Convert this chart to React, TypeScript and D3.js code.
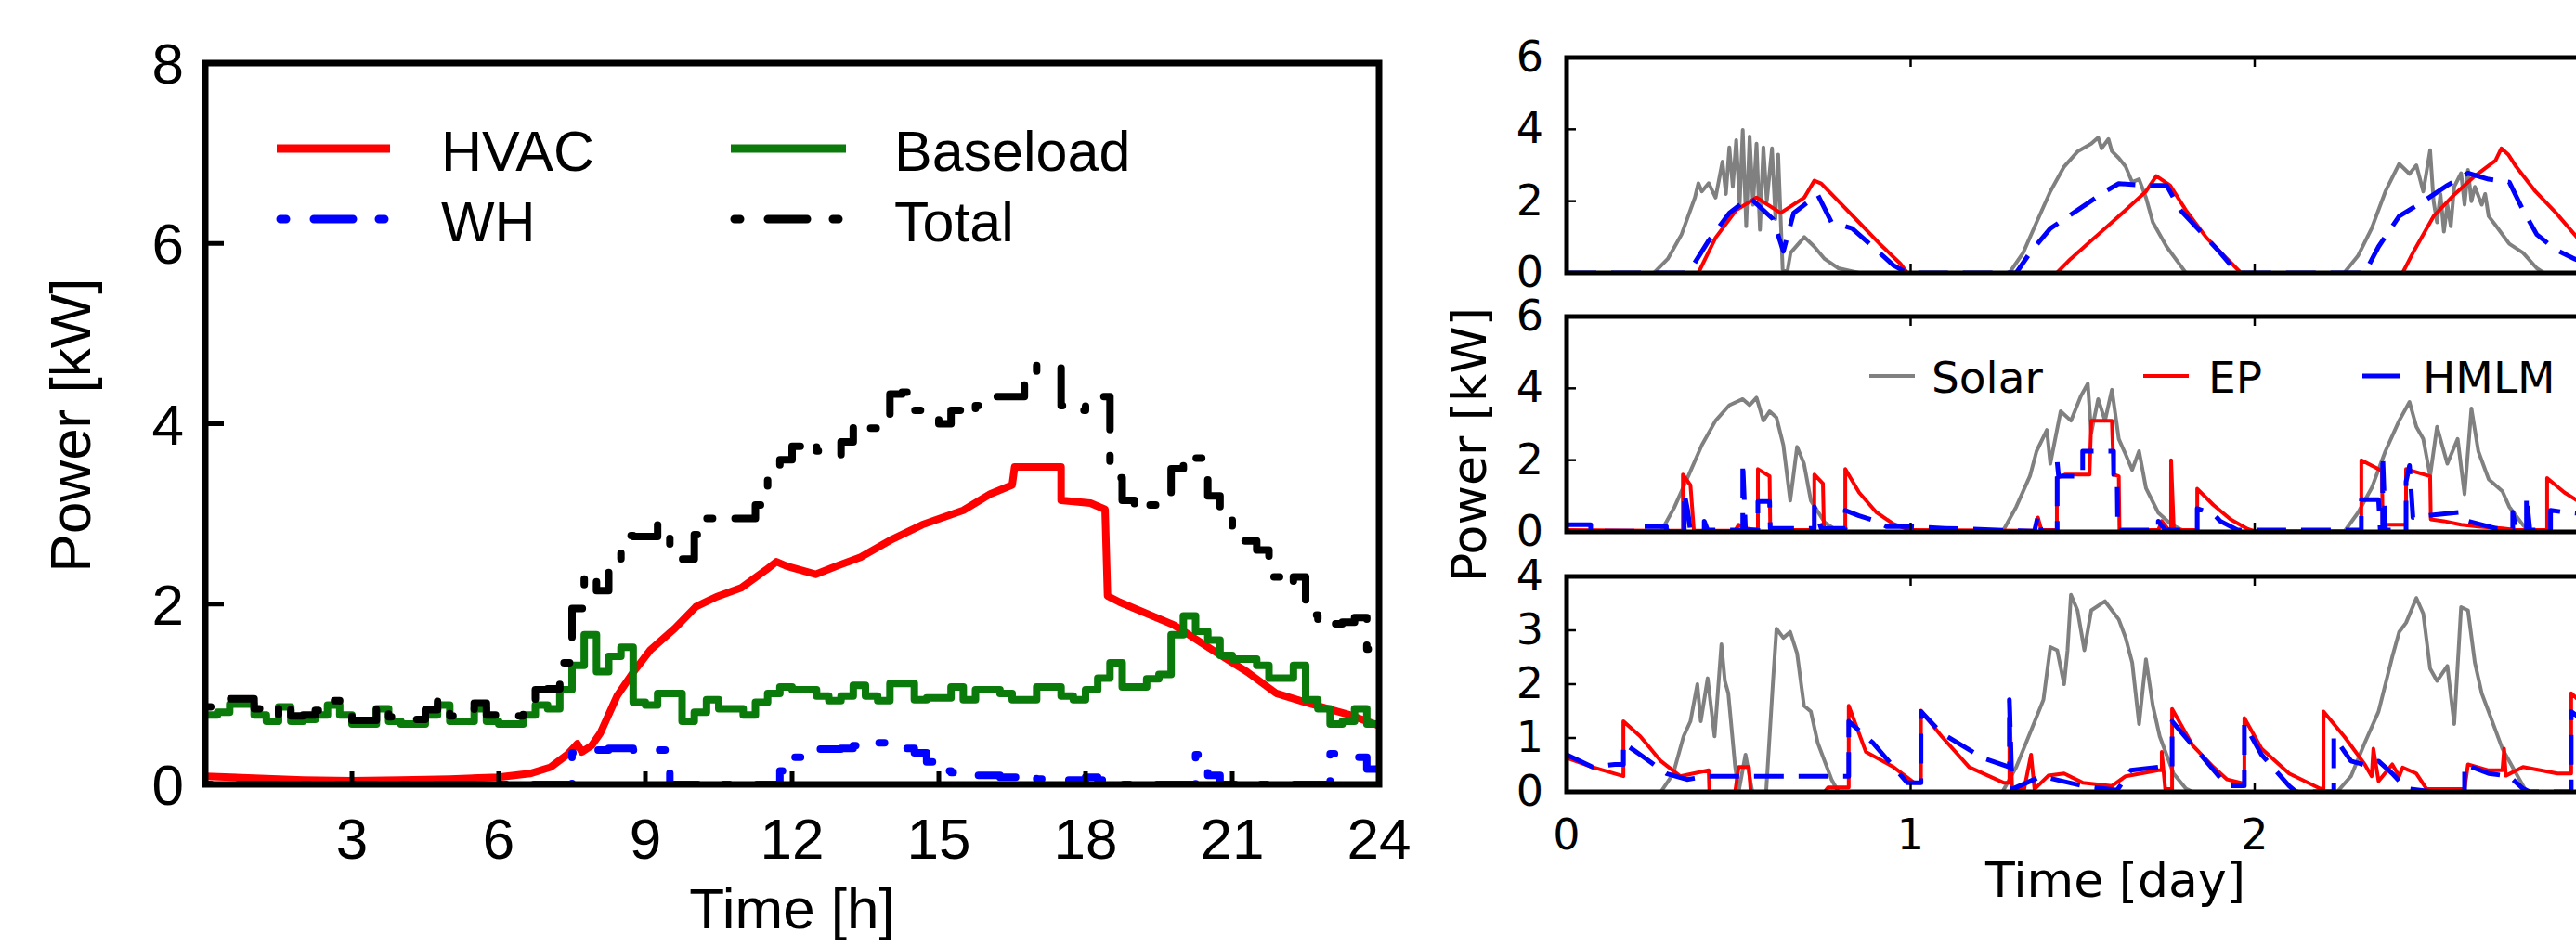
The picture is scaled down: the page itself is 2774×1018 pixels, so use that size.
import React from 'react';
import * as d3 from 'd3';

// ---------- Left chart: one day, 15-min resolution ----------
const baseload = [
  0.77, 0.80, 0.89, 0.89, 0.77, 0.70, 0.86, 0.70, 0.72, 0.77, 0.88, 0.77,
  0.67, 0.67, 0.84, 0.70, 0.67, 0.67, 0.77, 0.88, 0.70, 0.70, 0.84, 0.70,
  0.67, 0.67, 0.77, 0.88, 0.84, 1.05, 1.32, 1.66, 1.25, 1.42, 1.52, 0.91,
  0.88, 1.01, 1.01, 0.70, 0.80, 0.94, 0.84, 0.84, 0.77, 0.91, 1.01, 1.08,
  1.05, 1.05, 0.98, 0.93, 0.98, 1.10, 0.98, 0.93, 1.12, 1.12, 0.94, 0.96,
  0.96, 1.08, 0.94, 1.05, 1.05, 1.01, 0.94, 0.94, 1.08, 1.08, 0.98, 0.94,
  1.05, 1.18, 1.35, 1.08, 1.08, 1.17, 1.22, 1.66, 1.87, 1.70, 1.60, 1.43,
  1.39, 1.39, 1.32, 1.18, 1.18, 1.32, 0.94, 0.84, 0.67, 0.70, 0.84, 0.67,
];
const waterHeater = [
  0, 0, 0, 0, 0, 0, 0, 0, 0, 0, 0, 0,
  0, 0, 0, 0, 0, 0, 0, 0, 0, 0, 0, 0,
  0, 0, 0, 0, 0, 0, 0.35, 0.35, 0.38, 0.40, 0.40, 0.38,
  0.38, 0.38, 0, 0, 0, 0, 0, 0, 0, 0, 0, 0.15,
  0.30, 0.35, 0.39, 0.39, 0.40, 0.43, 0.45, 0.46, 0.45, 0.40, 0.35, 0.25,
  0.15, 0.13, 0.12, 0.10, 0.10, 0.08, 0.08, 0.10, 0.06, 0.05, 0.05, 0.05,
  0.08, 0.05, 0, 0, 0, 0, 0, 0, 0, 0.33, 0.10, 0,
  0, 0, 0, 0, 0, 0, 0, 0, 0.34, 0.34, 0.30, 0.17,
];
const totalLoad = [
  0.86, 0.87, 0.95, 0.95, 0.84, 0.77, 0.92, 0.76, 0.77, 0.82, 0.93, 0.81,
  0.71, 0.71, 0.88, 0.75, 0.72, 0.72, 0.83, 0.93, 0.76, 0.76, 0.90, 0.77,
  0.75, 0.76, 0.89, 1.05, 1.06, 1.35, 1.95, 2.35, 2.15, 2.45, 2.76, 2.75,
  2.75, 2.88, 2.55, 2.50, 2.77, 2.95, 2.92, 2.95, 2.95, 3.10, 3.40, 3.60,
  3.75, 3.80, 3.70, 3.65, 3.80, 4.00, 3.95, 3.95, 4.33, 4.35, 4.15, 4.10,
  4.00, 4.15, 4.10, 4.20, 4.30, 4.30, 4.30, 4.50, 4.65, 4.62, 4.20, 4.15,
  4.25, 4.30, 3.40, 3.15, 3.05, 3.10, 3.10, 3.50, 3.65, 3.62, 3.20, 3.00,
  2.85, 2.70, 2.60, 2.30, 2.20, 2.30, 1.88, 1.75, 1.78, 1.80, 1.85, 1.50,
];
const hvac: [number, number][] = [
  [0, 0.09], [1, 0.07], [2, 0.05], [3, 0.04], [4, 0.05], [5, 0.06], [6, 0.08],
  [6.64, 0.12], [7.06, 0.19], [7.4, 0.33], [7.61, 0.45], [7.7, 0.36], [7.9, 0.43],
  [8.08, 0.57], [8.42, 0.98], [8.76, 1.25], [9.1, 1.49], [9.6, 1.73], [10.03, 1.97],
  [10.45, 2.08], [10.96, 2.18], [11.47, 2.38], [11.68, 2.47], [11.89, 2.42],
  [12.48, 2.33], [12.9, 2.42], [13.4, 2.52], [14.05, 2.72], [14.66, 2.88],
  [15.5, 3.04], [16.05, 3.22], [16.5, 3.32], [16.55, 3.52], [17.5, 3.52],
  [17.5, 3.15], [18.1, 3.12], [18.4, 3.05], [18.45, 2.09], [18.7, 2.02],
  [19.8, 1.77], [20.6, 1.49], [21.3, 1.25], [21.9, 1.01], [22.5, 0.91],
  [23.4, 0.77], [24, 0.65],
];
const leftXTicks = [3, 6, 9, 12, 15, 18, 21, 24];
const leftYTicks = [0, 2, 4, 6, 8];

// ---------- Right chart: three days, three scenarios ----------
type P = [number, number];
const solarTop: P[] = [
  [0, 0], [0.254, 0], [0.294, 0.39], [0.334, 1.07], [0.373, 2.1], [0.383, 2.5], [0.393, 2.27],
  [0.413, 2.5], [0.433, 2.1], [0.453, 3.1], [0.463, 2.2], [0.473, 3.5], [0.483, 2.4], [0.493, 3.7],
  [0.503, 1.9], [0.512, 3.98], [0.522, 1.3], [0.532, 3.8], [0.542, 1.9], [0.552, 3.6], [0.562, 1.2],
  [0.572, 3.5], [0.582, 2.0], [0.597, 3.47], [0.607, 1.5], [0.615, 3.3], [0.628, 0.1], [0.641, 0],
  [0.651, 0.56], [0.691, 1.0], [0.72, 0.73], [0.75, 0.39], [0.79, 0.13], [0.85, 0],
  [1.287, 0], [1.327, 0.56], [1.366, 1.41], [1.406, 2.27], [1.446, 2.96], [1.485, 3.38], [1.525, 3.6],
  [1.545, 3.77], [1.555, 3.47], [1.575, 3.73], [1.585, 3.39], [1.605, 3.2], [1.625, 2.96],
  [1.644, 2.53], [1.664, 2.61], [1.684, 2.1], [1.704, 1.41], [1.744, 0.73], [1.784, 0.21], [1.8, 0],
  [2.26, 0], [2.3, 0.47], [2.34, 1.24], [2.38, 2.27], [2.42, 3.04], [2.45, 2.76], [2.47, 3.0],
  [2.49, 2.27], [2.51, 3.42], [2.52, 2.0], [2.53, 1.41], [2.54, 2.2], [2.55, 1.15], [2.56, 1.9],
  [2.57, 1.3], [2.58, 2.4], [2.6, 2.78], [2.61, 1.9], [2.62, 2.87], [2.63, 2.0], [2.64, 2.4],
  [2.66, 1.9], [2.67, 2.2], [2.68, 1.58], [2.7, 1.33], [2.74, 0.81], [2.78, 0.56], [2.82, 0.13],
  [2.84, 0], [3.2, 0],
];
const epTop: P[] = [
  [0, 0], [0.383, 0], [0.433, 0.98], [0.493, 1.75], [0.552, 2.1], [0.622, 1.67], [0.691, 2.1],
  [0.72, 2.57], [0.74, 2.49], [0.79, 2.0], [0.85, 1.41], [0.91, 0.81], [0.97, 0.26], [0.99, 0],
  [1.425, 0], [1.465, 0.39], [1.545, 1.07], [1.625, 1.75], [1.684, 2.27], [1.714, 2.7], [1.754, 2.44],
  [1.8, 1.75], [1.86, 0.98], [1.92, 0.39], [1.96, 0], [2.43, 0], [2.46, 0.56], [2.52, 1.58],
  [2.58, 2.18], [2.64, 2.7], [2.7, 3.13], [2.717, 3.47], [2.737, 3.3], [2.76, 2.96], [2.816, 2.27],
  [2.876, 1.67], [2.93, 1.07], [2.98, 0.5], [3.03, 0], [3.2, 0],
];
const hmlmTop: P[] = [
  [0, 0], [0.354, 0], [0.413, 0.9], [0.473, 1.67], [0.532, 2.1], [0.6, 1.5], [0.63, 0.6],
  [0.66, 1.67], [0.73, 2.18], [0.77, 1.41], [0.83, 1.24], [0.89, 0.73], [0.95, 0.21], [0.99, 0],
  [1.307, 0], [1.347, 0.56], [1.406, 1.24], [1.485, 1.75], [1.565, 2.27], [1.605, 2.49],
  [1.684, 2.44], [1.744, 2.44], [1.784, 1.75], [1.843, 1.15], [1.9, 0.56], [1.95, 0],
  [2.32, 0], [2.36, 0.73], [2.42, 1.58], [2.48, 1.93], [2.56, 2.44], [2.62, 2.78], [2.68, 2.61],
  [2.74, 2.53], [2.78, 1.75], [2.82, 1.07], [2.876, 0.64], [2.93, 0.39], [3.0, 0.1], [3.05, 0], [3.2, 0],
];
const solarMid: P[] = [
  [0, 0], [0.274, 0], [0.314, 0.7], [0.354, 1.56], [0.393, 2.42], [0.433, 3.1], [0.473, 3.53],
  [0.512, 3.7], [0.532, 3.53], [0.552, 3.74], [0.572, 3.1], [0.59, 3.36], [0.61, 3.19], [0.63, 2.42],
  [0.65, 0.87], [0.67, 2.37], [0.69, 1.9], [0.71, 0.87], [0.75, 0.27], [0.79, 0],
  [1.267, 0], [1.307, 0.7], [1.347, 1.56], [1.366, 2.25], [1.396, 2.84], [1.406, 1.9], [1.436, 3.36],
  [1.466, 3.1], [1.495, 3.79], [1.515, 4.13], [1.525, 2.76], [1.545, 3.7], [1.565, 3.1], [1.585, 3.96],
  [1.605, 2.59], [1.625, 2.16], [1.644, 1.73], [1.664, 2.25], [1.684, 1.22], [1.72, 0.53],
  [1.76, 0.19], [1.8, 0],
  [2.26, 0], [2.3, 0.53], [2.34, 1.22], [2.38, 2.25], [2.42, 3.1], [2.45, 3.62], [2.47, 2.93],
  [2.49, 2.59], [2.51, 1.56], [2.53, 2.93], [2.56, 1.9], [2.59, 2.59], [2.61, 1.05], [2.63, 3.44],
  [2.65, 2.25], [2.68, 1.47], [2.72, 1.13], [2.74, 0.7], [2.78, 0.19], [2.8, 0], [3.2, 0],
];
const epMid: P[] = [
  [0, 0.05], [0.338, 0.03], [0.338, 1.6], [0.36, 1.3], [0.37, 0.03], [0.49, 0.03], [0.5, 0.2],
  [0.52, 0.1], [0.556, 0.05], [0.556, 1.75], [0.59, 1.55], [0.592, 0.05], [0.72, 0.05], [0.72, 1.6],
  [0.745, 1.35], [0.748, 0.05], [0.81, 0.05], [0.81, 1.75], [0.85, 1.1], [0.9, 0.55], [0.95, 0.22],
  [1.0, 0.05], [1.36, 0.03], [1.37, 0.4], [1.38, 0.05], [1.425, 0.05], [1.425, 1.5], [1.45, 1.6],
  [1.52, 1.6], [1.525, 3.1], [1.585, 3.1], [1.59, 1.6], [1.605, 1.55], [1.607, 0.05], [1.72, 0.05],
  [1.73, 0.3], [1.75, 0.05], [1.757, 0.05], [1.757, 2.0], [1.765, 0.05], [1.833, 0.05], [1.833, 1.2],
  [1.88, 0.75], [1.93, 0.35], [1.98, 0.08], [2.0, 0.02], [2.31, 0.02], [2.31, 2.0], [2.37, 1.7],
  [2.372, 0.2], [2.44, 0.2], [2.44, 1.75], [2.51, 1.55], [2.512, 0.35], [2.55, 0.3], [2.6, 0.2],
  [2.65, 0.15], [2.72, 0.1], [2.76, 0.05], [2.85, 0.05], [2.85, 1.5], [2.9, 1.1], [2.95, 0.8], [3.2, 0.1],
];
const hmlmMid: P[] = [
  [0, 0.2], [0.07, 0.2], [0.07, 0.02], [0.2, 0.02], [0.2, 0.15], [0.29, 0.15], [0.29, 0.02],
  [0.342, 0.02], [0.342, 1.1], [0.352, 0.6], [0.36, 0.02], [0.4, 0.02], [0.4, 0.3], [0.41, 0.05],
  [0.512, 0.05], [0.512, 1.95], [0.52, 0.05], [0.556, 0.05], [0.556, 0.85], [0.59, 0.85], [0.592, 0.1],
  [0.72, 0.1], [0.72, 0.7], [0.74, 0.1], [0.81, 0.1], [0.81, 0.6], [0.85, 0.45], [0.9, 0.3],
  [0.93, 0.15], [1.0, 0.15], [1.1, 0.1], [1.36, 0.02], [1.37, 0.45], [1.38, 0.02], [1.426, 0.02],
  [1.426, 1.95], [1.43, 1.55], [1.5, 1.55], [1.5, 2.25], [1.59, 2.25], [1.59, 1.6], [1.6, 1.6],
  [1.602, 0.05], [1.72, 0.05], [1.72, 0.3], [1.74, 0.05], [1.833, 0.05], [1.833, 0.65], [1.88, 0.5],
  [1.9, 0.3], [1.95, 0.05], [2.31, 0.05], [2.31, 0.9], [2.36, 0.9], [2.365, 0.05], [2.372, 0.05],
  [2.372, 2.15], [2.38, 0.05], [2.44, 0.05], [2.44, 1.4], [2.45, 1.85], [2.46, 0.4], [2.5, 0.45],
  [2.6, 0.55], [2.62, 0.3], [2.7, 0.1], [2.75, 0.1], [2.75, 0.55], [2.76, 0.05], [2.79, 0.05],
  [2.79, 1.0], [2.8, 0.05], [2.86, 0.05], [2.86, 0.6], [2.9, 0.55], [3.2, 0.3],
];
const solarBot: P[] = [
  [0, 0], [0.274, 0], [0.31, 0.34], [0.34, 1.03], [0.36, 1.31], [0.38, 2.0], [0.39, 1.31],
  [0.41, 2.11], [0.43, 1.03], [0.45, 2.74], [0.46, 2.06], [0.47, 1.83], [0.49, 0.46], [0.5, 0],
  [0.52, 0.69], [0.54, 0], [0.58, 0], [0.6, 2.06], [0.61, 3.03], [0.63, 2.86], [0.65, 2.97],
  [0.67, 2.57], [0.69, 1.6], [0.71, 1.49], [0.73, 0.91], [0.77, 0.23], [0.79, 0],
  [1.267, 0], [1.307, 0.46], [1.347, 1.09], [1.386, 1.71], [1.406, 2.69], [1.426, 2.63], [1.446, 2.0],
  [1.456, 2.63], [1.466, 3.66], [1.485, 3.37], [1.505, 2.63], [1.525, 3.37], [1.565, 3.54],
  [1.605, 3.2], [1.625, 2.86], [1.644, 2.4], [1.664, 1.26], [1.684, 2.46], [1.704, 1.6],
  [1.724, 1.03], [1.764, 0.34], [1.8, 0.06], [1.82, 0],
  [2.24, 0], [2.28, 0.29], [2.32, 0.91], [2.36, 1.49], [2.4, 2.51], [2.42, 2.97], [2.44, 3.14],
  [2.47, 3.6], [2.49, 3.31], [2.51, 2.29], [2.53, 2.06], [2.56, 2.34], [2.58, 1.26], [2.6, 3.43],
  [2.62, 3.37], [2.64, 2.4], [2.66, 1.83], [2.68, 1.49], [2.72, 0.8], [2.76, 0.34], [2.79, 0], [3.2, 0],
];
const epBot: P[] = [
  [0, 0.63], [0.075, 0.46], [0.165, 0.29], [0.165, 1.31], [0.214, 1.03], [0.274, 0.57], [0.33, 0.29],
  [0.413, 0.4], [0.415, 0], [0.49, 0], [0.5, 0.46], [0.53, 0.46], [0.535, 0], [0.75, 0], [0.76, 0.08],
  [0.82, 0.08], [0.82, 1.6], [0.87, 0.74], [0.95, 0.46], [1.01, 0.17], [1.03, 0.17], [1.03, 1.51],
  [1.09, 1.03], [1.17, 0.46], [1.27, 0.17], [1.287, 0.17], [1.287, 1.71], [1.295, 0.05], [1.33, 0.05],
  [1.35, 0.69], [1.36, 0.05], [1.4, 0.3], [1.446, 0.34], [1.5, 0.17], [1.585, 0.11], [1.625, 0.29],
  [1.72, 0.4], [1.73, 0.4], [1.73, 0.74], [1.74, 0.05], [1.76, 0.05], [1.76, 1.54], [1.82, 0.86],
  [1.88, 0.46], [1.92, 0.23], [1.97, 0.15], [1.97, 1.37], [2.02, 0.8], [2.1, 0.34], [2.19, 0.06],
  [2.2, 0.06], [2.2, 1.49], [2.26, 1.03], [2.32, 0.51], [2.34, 0.29], [2.345, 0.8], [2.36, 0.2],
  [2.4, 0.51], [2.42, 0.29], [2.43, 0.45], [2.47, 0.34], [2.5, 0.05], [2.61, 0.05], [2.62, 0.51],
  [2.68, 0.4], [2.72, 0.4], [2.725, 0.8], [2.73, 0.3], [2.78, 0.46], [2.88, 0.34], [2.92, 0.34],
  [2.92, 1.83], [2.96, 1.6], [3.2, 0.8],
];
const hmlmBot: P[] = [
  [0, 0.69], [0.075, 0.46], [0.14, 0.51], [0.165, 0.51], [0.165, 0.91], [0.214, 0.69], [0.29, 0.34],
  [0.35, 0.23], [0.41, 0.29], [0.5, 0.29], [0.6, 0.29], [0.75, 0.29], [0.82, 0.29], [0.82, 1.31],
  [0.89, 0.91], [0.99, 0.17], [1.03, 0.17], [1.03, 1.49], [1.09, 1.09], [1.21, 0.63], [1.287, 0.46],
  [1.287, 1.71], [1.295, 0.05], [1.38, 0.29], [1.5, 0.11], [1.6, 0.03], [1.64, 0.4], [1.72, 0.46],
  [1.76, 0.46], [1.76, 1.31], [1.82, 0.86], [1.92, 0.11], [1.97, 0.11], [1.97, 1.26], [2.02, 0.69],
  [2.1, 0.11], [2.12, 0], [2.23, 0], [2.23, 1.03], [2.28, 0.57], [2.32, 0.5], [2.36, 0.57],
  [2.4, 0.34], [2.44, 0.06], [2.52, 0], [2.61, 0], [2.61, 0.51], [2.68, 0.34], [2.74, 0.29],
  [2.78, 0.06], [2.8, 0], [2.92, 0], [2.92, 1.49], [2.96, 1.3], [3.2, 0.7],
];
const dayTicks = [0, 1, 2, 3];
const dayTickLabels = ['0', '1', '2'];

const LFONT = '"Liberation Sans", Arial, Helvetica, sans-serif';
const RFONT = '"DejaVu Sans", sans-serif';

function Panel(props: {
  id: string; top: number; bottom: number; ymax: number; yticks: number[];
  solar: P[]; ep: P[]; hmlm: P[]; showX: boolean; legend?: boolean;
}) {
  const { id, top, bottom, ymax, yticks, solar, ep, hmlm, showX, legend } = props;
  const x = d3.scaleLinear().domain([0, 3.2]).range([1687, 1687 + 370.5 * 3.2]);
  const y = d3.scaleLinear().domain([0, ymax]).range([bottom, top]);
  const line = d3.line<P>().x(d => x(d[0])).y(d => y(d[1]));
  const x0 = x(0), x1 = x(3.2);
  return (
    <g>
      <defs>
        <clipPath id={id}>
          <rect x={x0} y={top} width={x1 - x0} height={bottom - top} />
        </clipPath>
      </defs>
      <g clipPath={`url(#${id})`} fill="none" strokeLinejoin="round">
        <path d={line(solar) || ''} stroke="#808080" strokeWidth={4} />
        <path d={line(ep) || ''} stroke="#ff0000" strokeWidth={4} />
        <path d={line(hmlm) || ''} stroke="#0000ff" strokeWidth={5} strokeDasharray="32,16" />
      </g>
      {yticks.map(t => (
        <g key={'y' + t}>
          <line x1={x0} x2={x0 + 10} y1={y(t)} y2={y(t)} stroke="#000" strokeWidth={2.5} />
          <text x={1662} y={y(t) + 15} textAnchor="end" fontFamily={RFONT} fontSize={46}>{t}</text>
        </g>
      ))}
      {dayTicks.map(t => (
        <g key={'x' + t}>
          <line x1={x(t)} x2={x(t)} y1={top} y2={top + 10} stroke="#000" strokeWidth={2.5} />
          <line x1={x(t)} x2={x(t)} y1={bottom} y2={bottom - 10} stroke="#000" strokeWidth={2.5} />
        </g>
      ))}
      {showX && dayTickLabels.map((lab, i) => (
        <text key={'xl' + lab} x={x(dayTicks[i])} y={bottom + 62} textAnchor="middle"
          fontFamily={RFONT} fontSize={46}>{lab}</text>
      ))}
      <rect x={x0} y={top} width={x1 - x0} height={bottom - top} fill="none" stroke="#000" strokeWidth={5} />
      {legend && (
        <g fontFamily={RFONT} fontSize={47}>
          <line x1={2013} x2={2062} y1={405} y2={405} stroke="#808080" strokeWidth={4} />
          <text x={2080} y={423}>Solar</text>
          <line x1={2308} x2={2357} y1={405} y2={405} stroke="#ff0000" strokeWidth={4} />
          <text x={2378} y={423}>EP</text>
          <line x1={2544} x2={2585} y1={405} y2={405} stroke="#0000ff" strokeWidth={5} />
          <text x={2609} y={423}>HMLM</text>
        </g>
      )}
    </g>
  );
}

export default function App() {
  const xL = d3.scaleLinear().domain([0, 24]).range([221, 1485]);
  const yL = d3.scaleLinear().domain([0, 8]).range([845, 68]);
  const qt = d3.range(96).map(i => i * 0.25);
  const stepPts = (vals: number[]): P[] =>
    vals.map((v, i) => [qt[i], v] as P).concat([[24, vals[vals.length - 1]]]);
  const stepLine = d3.line<P>().x(d => xL(d[0])).y(d => yL(d[1])).curve(d3.curveStepAfter);
  const linLine = d3.line<P>().x(d => xL(d[0])).y(d => yL(d[1]));
  const dashDot = '6,30,42,28';

  return (
    <svg width={2774} height={1018} style={{ position: 'absolute', left: 0, top: 0, display: 'block', background: '#fff' }}>
      <rect x={0} y={0} width={2774} height={1018} fill="#fff" />
      {/* ---------- Left chart ---------- */}
      <defs>
        <clipPath id="clipL">
          <rect x={221} y={68} width={1264} height={777} />
        </clipPath>
      </defs>
      <g clipPath="url(#clipL)" fill="none" strokeLinejoin="round">
        <path d={linLine(hvac) || ''} stroke="#ff0000" strokeWidth={8} />
        <path d={stepLine(stepPts(waterHeater)) || ''} stroke="#0000ff" strokeWidth={8}
          strokeDasharray={dashDot} strokeLinecap="round" />
        <path d={stepLine(stepPts(baseload)) || ''} stroke="#0a7a0a" strokeWidth={8} />
        <path d={stepLine(stepPts(totalLoad)) || ''} stroke="#000" strokeWidth={8}
          strokeDasharray={dashDot} strokeLinecap="round" />
      </g>
      {leftYTicks.map(t => (
        <g key={'ly' + t}>
          <line x1={221} x2={241} y1={yL(t)} y2={yL(t)} stroke="#000" strokeWidth={5} />
          <text x={198} y={yL(t) + 22} textAnchor="end" fontFamily={LFONT} fontSize={62}>{t}</text>
        </g>
      ))}
      {leftXTicks.map(t => (
        <g key={'lx' + t}>
          <line x1={xL(t)} x2={xL(t)} y1={845} y2={831} stroke="#000" strokeWidth={5} />
          <text x={xL(t)} y={925} textAnchor="middle" fontFamily={LFONT} fontSize={62}>{t}</text>
        </g>
      ))}
      <rect x={221} y={68} width={1264} height={777} fill="none" stroke="#000" strokeWidth={7} />
      <text x={853} y={1000} textAnchor="middle" fontFamily={LFONT} fontSize={62}>Time [h]</text>
      <text transform="translate(97,458) rotate(-90)" textAnchor="middle" fontFamily={LFONT} fontSize={62}>Power [kW]</text>
      <g fontFamily={LFONT} fontSize={61} fill="none">
        <line x1={298} x2={420} y1={160} y2={160} stroke="#ff0000" strokeWidth={9} />
        <text x={475} y={184} fill="#000">HVAC</text>
        <line x1={302} x2={418} y1={236} y2={236} stroke="#0000ff" strokeWidth={9}
          strokeDasharray="6,30,42,28" strokeLinecap="round" />
        <text x={475} y={260} fill="#000">WH</text>
        <line x1={787} x2={911} y1={160} y2={160} stroke="#0a7a0a" strokeWidth={9} />
        <text x={963} y={184} fill="#000">Baseload</text>
        <line x1={791} x2={909} y1={236} y2={236} stroke="#000" strokeWidth={9}
          strokeDasharray="6,30,42,28" strokeLinecap="round" />
        <text x={963} y={260} fill="#000">Total</text>
      </g>

      {/* ---------- Right chart ---------- */}
      <Panel id="clipR1" top={62} bottom={294} ymax={6} yticks={[0, 2, 4, 6]}
        solar={solarTop} ep={epTop} hmlm={hmlmTop} showX={false} />
      <Panel id="clipR2" top={341} bottom={573} ymax={6} yticks={[0, 2, 4, 6]}
        solar={solarMid} ep={epMid} hmlm={hmlmMid} showX={false} legend />
      <Panel id="clipR3" top={621} bottom={853} ymax={4} yticks={[0, 1, 2, 3, 4]}
        solar={solarBot} ep={epBot} hmlm={hmlmBot} showX={true} />
      <text x={2278} y={966} textAnchor="middle" fontFamily={RFONT} fontSize={52}>Time [day]</text>
      <text transform="translate(1600,479) rotate(-90)" textAnchor="middle" fontFamily={RFONT} fontSize={52}>Power [kW]</text>
    </svg>
  );
}
